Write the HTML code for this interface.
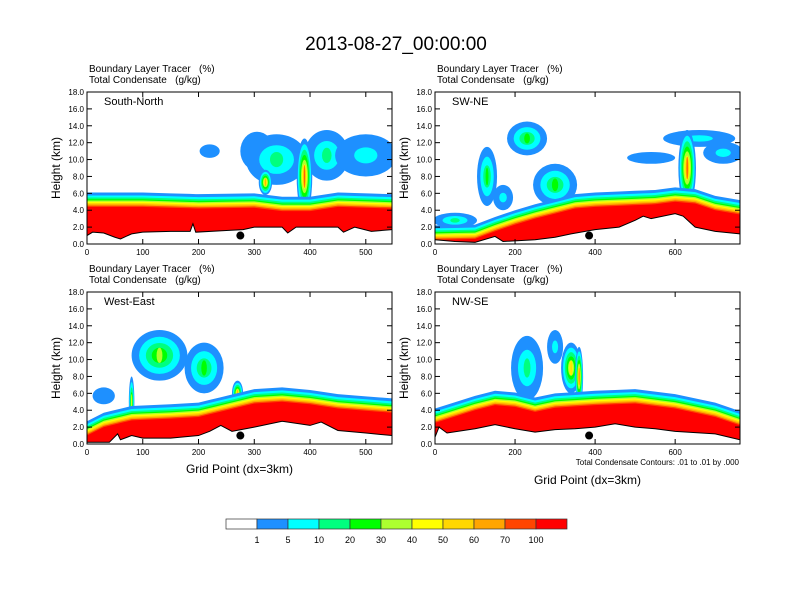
<!DOCTYPE html>
<html><head><meta charset="utf-8"><style>
body{margin:0;background:#fff;}
svg{display:block;font-family:"Liberation Sans",sans-serif;}
</style></head><body>
<svg id="c" width="792" height="612" viewBox="0 0 792 612">
<text x="396" y="50" font-size="19" text-anchor="middle">2013-08-27_00:00:00</text>
</svg>
<script>
const svg=document.getElementById('c');
const NS='http://www.w3.org/2000/svg';
const colors=['#1E90FF','#00FFFF','#00FF7F','#00FF00','#ADFF2F','#FFFF00','#FFD700','#FFA500','#FF4500','#FF0000'];
const levelLabels=['1','5','10','20','30','40','50','60','70','100'];
const bandOffsets=[1.7,1.35,1.1,0.9,0.75,0.6,0.45,0.3,0.15,0];
const panelNames=['South-North','SW-NE','West-East','NW-SE'];
const panelXmax=[547,762,547,762];
const panelXticks=[[0,100,200,300,400,500],[0,200,400,600],[0,100,200,300,400,500],[0,200,400,600]];
const yTicks=[0,2,4,6,8,10,12,14,16,18];
const terrainSN=[[0,1.0],[10,1.4],[30,1.3],[50,0.8],[60,0.6],[80,1.2],[100,1.4],[150,1.5],[185,1.5],[190,2.4],[195,1.4],[250,1.6],[280,1.7],[300,2.0],[350,2.0],[360,1.3],[375,2.0],[450,2.0],[460,1.4],[480,2.0],[510,1.5],[547,1.7]];
const blTopSN=[[0,4.4],[100,4.4],[200,4.2],[300,4.3],[350,3.9],[400,3.9],[450,4.4],[547,4.2]];
const terrainSWNE=[[0,0.5],[50,0.3],[100,0.2],[150,0.9],[170,0.3],[250,0.5],[300,0.8],[340,1.2],[400,1.7],[460,2.0],[500,2.8],[520,3.3],[540,3.0],[600,3.6],[620,3.3],[650,2.0],[700,1.5],[762,1.2]];
const blTopSWNE=[[0,0.5],[100,0.6],[150,1.5],[200,2.3],[250,3.0],[300,3.6],[350,4.2],[400,4.4],[500,4.6],[550,4.7],[600,5.0],[650,4.8],[700,4.0],[762,3.5]];
const terrainWE=[[0,0.2],[40,0.2],[55,1.2],[60,0.5],[80,1.0],[100,0.7],[150,0.7],[200,1.0],[220,1.5],[240,2.2],[260,1.5],[300,2.0],[350,2.7],[400,2.2],[420,2.6],[450,1.6],[500,1.3],[547,1.0]];
const blTopWE=[[0,1.0],[30,2.0],[80,2.8],[150,3.0],[200,3.2],[250,4.0],[300,4.8],[350,5.0],[400,4.7],[450,4.2],[547,3.7]];
const terrainNWSE=[[0,0.8],[10,2.0],[30,1.3],[100,1.8],[150,2.3],[200,1.8],[250,1.4],[300,1.7],[350,1.8],[400,2.0],[450,2.4],[500,2.0],[550,1.8],[600,1.5],[700,1.2],[762,0.5]];
const blTopNWSE=[[0,2.5],[100,4.0],[150,4.6],[200,4.4],[250,3.8],[300,4.3],[400,4.6],[500,4.8],[600,4.2],[700,3.2],[762,2.2]];
// clouds: [gridpoint, km, half-width gp, half-height km, max level]
const cloudsSN=[[220,11,18,0.8,0],[305,11,30,2.3,1],[340,10,55,3,2],[430,10.5,40,3,2],[500,10.5,55,2.5,1],[320,7.3,12,1.5,7],[390,8,14,4.5,8]];
const cloudsSWNE=[[230,12.5,50,2,3],[130,8,25,3.5,3],[300,7,55,2.5,3],[660,12.5,90,1,1],[720,10.8,50,1.3,1],[540,10.2,60,0.7,0],[50,2.8,55,0.9,2],[170,5.5,25,1.5,1],[630,9,22,4.5,8]];
const cloudsWE=[[130,10.5,50,3,4],[210,9,35,3,3],[30,5.7,20,1,0],[80,5,5,3,5],[270,6,10,1.5,7]];
const cloudsNWSE=[[230,9,40,3.8,2],[300,11.5,20,2,1],[340,9,25,3,6],[360,8,10,3.5,8]];
const terrains=[terrainSN,terrainSWNE,terrainWE,terrainNWSE];
const blTops=[blTopSN,blTopSWNE,blTopWE,blTopNWSE];
const clouds=[cloudsSN,cloudsSWNE,cloudsWE,cloudsNWSE];
const markerGp=[275,385,275,385];
const boxes=[[87,92],[435,92],[87,292],[435,292]];
const xTitleY=[0,0,473,484];
const PW=305,PH=152;

function el(tag,attrs,parent){const e=document.createElementNS(NS,tag);for(const k in attrs)e.setAttribute(k,attrs[k]);(parent||svg).appendChild(e);return e;}
function interp(arr,g){for(let i=0;i<arr.length-1;i++){if(g>=arr[i][0]&&g<=arr[i+1][0]){const t=(g-arr[i][0])/(arr[i+1][0]-arr[i][0]);return arr[i][1]+t*(arr[i+1][1]-arr[i][1]);}}return arr[arr.length-1][1];}

for(let p=0;p<4;p++){
  const [x0,y0]=boxes[p];const xm=panelXmax[p];
  const X=g=>x0+g/xm*PW; const Y=k=>y0+PH-k/18*PH;
  const g=el('g',{},svg);
  
  
  const cp=el('clipPath',{id:'cp'+p},g);el('rect',{x:x0,y:y0,width:PW,height:PH},cp);
  const pg=el('g',{'clip-path':'url(#cp'+p+')'},g);
  clouds[p].forEach(c=>{
    for(let i=0;i<=c[4];i++){const s=Math.pow(1-i/(c[4]+1),1.4);
      const e=el('ellipse',{cx:X(c[0]),cy:Y(c[1]),rx:(c[2]*s)/xm*PW,ry:(c[3]*(i?Math.max(s,0.3):1))/18*PH,fill:colors[i]},pg);
      
      }
  });
  const terr=terrains[p],bl=blTops[p];
  const gps=[...new Set([...terr.map(a=>a[0]),...bl.map(a=>a[0])])].sort((a,b)=>a-b);
  bandOffsets.forEach((o,i)=>{
    let pts=gps.map(gg=>X(gg)+','+Y(Math.max(interp(bl,gg)+o,interp(terr,gg))));
    const bot=terr.slice().reverse().map(a=>X(a[0])+','+Y(a[1]));
    const poly=el('polygon',{points:pts.concat(bot).join(' '),fill:colors[i]},pg);
    
    
  });
  const tl=el('polyline',{points:terr.map(a=>X(a[0])+','+Y(a[1])).join(' '),fill:'none',stroke:'#000','stroke-width':1},pg);
  
  
  const dot=el('circle',{cx:X(markerGp[p]),cy:Y(1.0),r:4,fill:'#000'},g);
  
  
  el('rect',{x:x0,y:y0,width:PW,height:PH,fill:'none',stroke:'#000','stroke-width':1},g);
  yTicks.forEach(k=>{const yy=Y(k);
    el('line',{x1:x0,y1:yy,x2:x0+5,y2:yy,stroke:'#000'},g);el('line',{x1:x0+PW,y1:yy,x2:x0+PW-5,y2:yy,stroke:'#000'},g);
    const t=el('text',{x:x0-3,y:yy+3,'font-size':8,'text-anchor':'end'},g);t.textContent=k.toFixed(1);
    
    });
  panelXticks[p].forEach(v=>{const xx=X(v);
    el('line',{x1:xx,y1:y0+PH,x2:xx,y2:y0+PH-5,stroke:'#000'},g);el('line',{x1:xx,y1:y0,x2:xx,y2:y0+5,stroke:'#000'},g);
    const t=el('text',{x:xx,y:y0+PH+11,'font-size':8,'text-anchor':'middle'},g);t.textContent=v;
    
    });
  const yl=el('text',{x:0,y:0,'font-size':12,'text-anchor':'middle',transform:`translate(${x0-27},${y0+PH/2}) rotate(-90)`},g);yl.textContent='Height (km)';
  
  
  const t1=el('text',{x:x0+2,y:y0-20,'font-size':10},g);t1.textContent='Boundary Layer Tracer   (%)';t1.style.whiteSpace='pre';
  
  
  const t2=el('text',{x:x0+2,y:y0-9,'font-size':10},g);t2.textContent='Total Condensate   (g/kg)';t2.style.whiteSpace='pre';
  
  
  const nm=el('text',{x:x0+17,y:y0+13,'font-size':11},g);nm.textContent=panelNames[p];
  
  
  if(p>=2){const xl=el('text',{x:x0+PW/2,y:xTitleY[p],'font-size':12,'text-anchor':'middle'},g);xl.textContent='Grid Point (dx=3km)';
    
    }
}
const note=el('text',{x:739,y:465,'font-size':8,'text-anchor':'end'});note.textContent='Total Condensate Contours: .01 to .01 by .000';


const cb=el('g',{});


const cbColors=['#FFFFFF'].concat(colors);
cbColors.forEach((c,i)=>{const r=el('rect',{x:226+i*31,y:519,width:31,height:10,fill:c,stroke:'#333','stroke-width':0.7},cb);
  
  });
levelLabels.forEach((l,i)=>{const t=el('text',{x:257+i*31,y:543,'font-size':9,'text-anchor':'middle'},cb);t.textContent=l;
  
  });
</script>
</body></html>
